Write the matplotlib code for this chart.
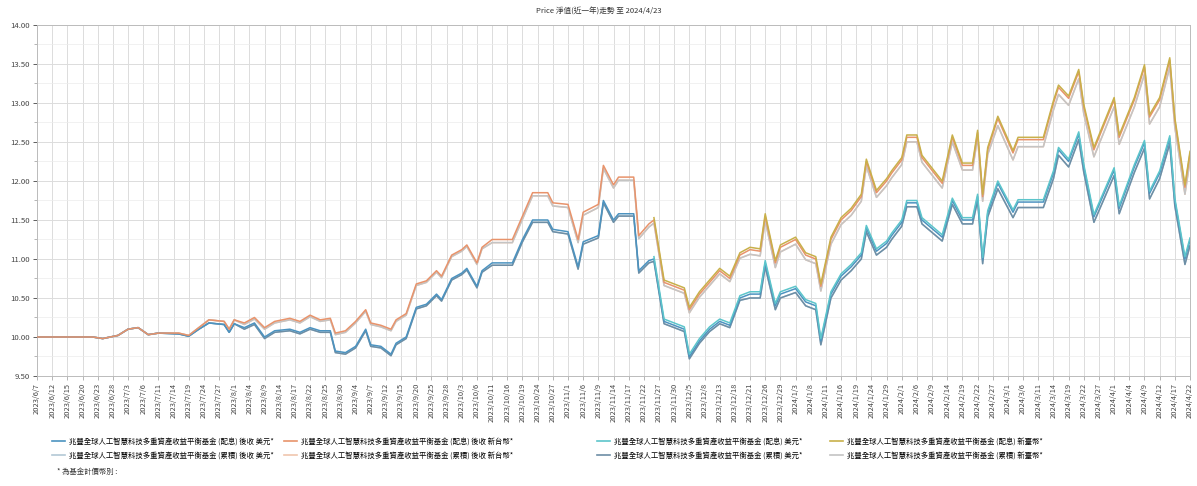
import matplotlib
matplotlib.use('Agg')
import matplotlib.pyplot as plt
import matplotlib.ticker as mticker
from matplotlib.lines import Line2D
import pandas as pd

plt.rcParams['font.family'] = ['Noto Sans CJK TC', 'DejaVu Sans']

# --- data (business-day index) ---
start_date = '2023-06-07'
n_days = 229

days = [0, 11, 13, 16, 18, 20, 22, 24, 28, 30,
        32, 34, 37, 38, 39, 41, 43, 45, 47, 50,
        52, 54, 56, 58, 59, 61, 63, 65, 66, 68,
        70, 71, 73, 75, 77, 79, 80, 82, 84, 85,
        87, 88, 90, 94, 96, 98, 101, 102, 105, 107,
        108, 111, 112, 114, 115, 118, 119, 121, 122, 124,
        126, 128, 129, 131, 133, 135, 137, 139, 141, 143,
        144, 146, 147, 150, 152, 154, 155, 157, 159, 161,
        163, 164, 166, 168, 169, 171, 172, 174, 175, 179,
        181, 183, 185, 186, 187, 188, 190, 193, 194, 199,
        201, 202, 204, 206, 207, 209, 213, 214, 217, 219,
        220, 222, 224, 225, 227, 228]
late_start = 58  # front-load classes are drawn from this point of `days`

twd_hi = [10.00, 10.00, 9.98, 10.02, 10.10, 10.12, 10.03, 10.05, 10.05, 10.02,
          10.12, 10.22, 10.20, 10.10, 10.22, 10.18, 10.25, 10.12, 10.20, 10.24,
          10.20, 10.28, 10.22, 10.24, 10.05, 10.08, 10.20, 10.35, 10.18, 10.15,
          10.10, 10.22, 10.30, 10.68, 10.72, 10.85, 10.78, 11.05, 11.12, 11.18,
          10.95, 11.15, 11.25, 11.25, 11.55, 11.85, 11.85, 11.72, 11.70, 11.25,
          11.60, 11.70, 12.20, 11.95, 12.05, 12.05, 11.30, 11.45, 11.50, 10.70,
          10.65, 10.60, 10.35, 10.55, 10.70, 10.85, 10.75, 11.05, 11.12, 11.10,
          11.55, 10.95, 11.15, 11.25, 11.05, 11.00, 10.65, 11.25, 11.50, 11.62,
          11.80, 12.25, 11.85, 12.00, 12.10, 12.27, 12.56, 12.56, 12.30, 11.97,
          12.56, 12.20, 12.20, 12.62, 11.80, 12.40, 12.80, 12.36, 12.53, 12.53,
          13.00, 13.20, 13.06, 13.40, 12.95, 12.40, 13.04, 12.56, 13.04, 13.46,
          12.82, 13.04, 13.55, 12.78, 11.92, 12.35]

twd_lo = [10.00, 10.00, 9.98, 10.02, 10.10, 10.12, 10.03, 10.05, 10.05, 10.02,
          10.12, 10.22, 10.20, 10.10, 10.22, 10.16, 10.23, 10.10, 10.18, 10.22,
          10.18, 10.26, 10.20, 10.22, 10.03, 10.06, 10.18, 10.33, 10.16, 10.13,
          10.08, 10.20, 10.28, 10.66, 10.70, 10.83, 10.76, 11.03, 11.10, 11.16,
          10.93, 11.13, 11.21, 11.21, 11.51, 11.81, 11.81, 11.68, 11.66, 11.21,
          11.56, 11.66, 12.16, 11.91, 12.01, 12.01, 11.26, 11.41, 11.46, 10.66,
          10.61, 10.56, 10.31, 10.51, 10.66, 10.81, 10.71, 11.01, 11.06, 11.04,
          11.49, 10.89, 11.09, 11.19, 10.99, 10.94, 10.59, 11.19, 11.44, 11.56,
          11.74, 12.19, 11.79, 11.94, 12.04, 12.21, 12.50, 12.50, 12.24, 11.91,
          12.50, 12.14, 12.14, 12.56, 11.74, 12.34, 12.71, 12.27, 12.44, 12.44,
          12.91, 13.11, 12.97, 13.31, 12.86, 12.31, 12.95, 12.47, 12.95, 13.37,
          12.73, 12.95, 13.46, 12.69, 11.83, 12.26]

twd_front = [11.53, 10.73,
             10.68, 10.63, 10.38, 10.58, 10.73, 10.88, 10.78, 11.08, 11.15, 11.13,
             11.58, 10.98, 11.18, 11.28, 11.08, 11.03, 10.68, 11.28, 11.53, 11.65,
             11.83, 12.28, 11.88, 12.03, 12.13, 12.30, 12.59, 12.59, 12.33, 12.00,
             12.59, 12.23, 12.23, 12.65, 11.83, 12.43, 12.83, 12.39, 12.56, 12.56,
             13.03, 13.23, 13.09, 13.43, 12.98, 12.43, 13.07, 12.59, 13.07, 13.49,
             12.85, 13.07, 13.58, 12.81, 11.95, 12.38]

usd_hi = [10.00, 10.00, 9.98, 10.02, 10.10, 10.12, 10.03, 10.05, 10.04, 10.01,
          10.10, 10.18, 10.16, 10.06, 10.17, 10.12, 10.18, 10.00, 10.08, 10.10,
          10.06, 10.12, 10.08, 10.08, 9.82, 9.80, 9.88, 10.10, 9.90, 9.88,
          9.78, 9.92, 10.00, 10.38, 10.42, 10.55, 10.48, 10.75, 10.82, 10.88,
          10.65, 10.85, 10.95, 10.95, 11.25, 11.50, 11.50, 11.38, 11.35, 10.90,
          11.22, 11.30, 11.75, 11.50, 11.58, 11.58, 10.85, 10.98, 11.00, 10.20,
          10.15, 10.10, 9.75, 9.95, 10.10, 10.20, 10.15, 10.50, 10.55, 10.55,
          10.95, 10.40, 10.55, 10.62, 10.45, 10.40, 9.95, 10.55, 10.78, 10.90,
          11.05, 11.40, 11.10, 11.20, 11.30, 11.47, 11.72, 11.72, 11.50, 11.28,
          11.75, 11.50, 11.50, 11.80, 10.99, 11.59, 11.97, 11.60, 11.73, 11.73,
          12.10, 12.40, 12.25, 12.60, 12.18, 11.54, 12.14, 11.65, 12.18, 12.49,
          11.84, 12.10, 12.55, 11.75, 11.00, 11.24]

usd_lo = [10.00, 10.00, 9.98, 10.02, 10.10, 10.12, 10.03, 10.05, 10.04, 10.01,
          10.10, 10.18, 10.16, 10.06, 10.17, 10.10, 10.16, 9.98, 10.06, 10.08,
          10.04, 10.10, 10.06, 10.06, 9.80, 9.78, 9.86, 10.08, 9.88, 9.86,
          9.76, 9.90, 9.98, 10.36, 10.40, 10.53, 10.46, 10.73, 10.80, 10.86,
          10.63, 10.83, 10.92, 10.92, 11.22, 11.47, 11.47, 11.35, 11.32, 10.87,
          11.19, 11.27, 11.72, 11.47, 11.55, 11.55, 10.82, 10.95, 10.97, 10.17,
          10.12, 10.07, 9.72, 9.92, 10.07, 10.17, 10.12, 10.47, 10.50, 10.50,
          10.90, 10.35, 10.50, 10.57, 10.40, 10.35, 9.90, 10.50, 10.73, 10.85,
          11.00, 11.35, 11.05, 11.15, 11.25, 11.42, 11.67, 11.67, 11.45, 11.23,
          11.70, 11.45, 11.45, 11.75, 10.94, 11.54, 11.90, 11.53, 11.66, 11.66,
          12.03, 12.33, 12.18, 12.53, 12.11, 11.47, 12.07, 11.58, 12.11, 12.42,
          11.77, 12.03, 12.48, 11.68, 10.93, 11.17]

usd_front = [11.03, 10.23,
             10.18, 10.13, 9.78, 9.98, 10.13, 10.23, 10.18, 10.53, 10.58, 10.58,
             10.98, 10.43, 10.58, 10.65, 10.48, 10.43, 9.98, 10.58, 10.81, 10.93,
             11.08, 11.43, 11.13, 11.23, 11.33, 11.50, 11.75, 11.75, 11.53, 11.31,
             11.78, 11.53, 11.53, 11.83, 11.02, 11.62, 12.00, 11.63, 11.76, 11.76,
             12.13, 12.43, 12.28, 12.63, 12.21, 11.57, 12.17, 11.68, 12.21, 12.52,
             11.87, 12.13, 12.58, 11.78, 11.03, 11.27]

fund = '兆豐全球人工智慧科技多重資產收益平衡基金'
labels = [
    f'{fund} (配息) 後收 美元*',
    f'{fund} (配息) 後收 新台幣*',
    f'{fund} (配息) 美元*',
    f'{fund} (配息) 新臺幣*',
    f'{fund} (累積) 後收 美元*',
    f'{fund} (累積) 後收 新台幣*',
    f'{fund} (累積) 美元*',
    f'{fund} (累積) 新臺幣*',
]
colors = ['#4c93c0', '#e8936b', '#5cc5cb', '#c8b04a',
          '#b3c8d6', '#f0c6ae', '#6d8ea5', '#c4c4c4']
late_days = days[late_start:]
series = [(days, usd_hi), (days, twd_hi), (late_days, usd_front), (late_days, twd_front),
          (days, usd_lo), (days, twd_lo), (days, usd_lo), (days, twd_lo)]
draw_order = [4, 6, 5, 7, 0, 1, 2, 3]

title = 'Price 淨值(近一年)走勢 至 2024/4/23'
note = '* 為基金計價幣別 :'

dates = pd.bdate_range(start_date, periods=n_days)
tick_idx = list(range(0, n_days, 3))
tick_lbl = [f'{d.year}/{d.month}/{d.day}' for d in dates[tick_idx]]

# --- plot ---
fig = plt.figure(figsize=(11.97, 4.86), dpi=100)
ax = fig.add_axes([37 / 1197, 1 - 376 / 486, (1190 - 37) / 1197, (376 - 25) / 486])

for z, k in enumerate(draw_order):
    xs, ys = series[k]
    ax.plot(xs, ys, color=colors[k], lw=1.1, zorder=3 + z * 0.1)

ax.set_xlim(0, n_days - 1)
ax.set_ylim(9.5, 14.0)
ax.yaxis.set_major_locator(mticker.MultipleLocator(0.5))
ax.yaxis.set_minor_locator(mticker.MultipleLocator(0.25))
ax.yaxis.set_major_formatter(mticker.FormatStrFormatter('%.2f'))
ax.set_xticks(tick_idx)
ax.set_xticklabels(tick_lbl, rotation=90, fontsize=5.4, color='#444444')
ax.tick_params(axis='y', labelsize=5.6, colors='#444444', length=3, width=0.6, pad=2)
ax.tick_params(axis='y', which='minor', length=2, width=0.5, colors='#999999')
ax.tick_params(axis='x', length=3, width=0.5, colors='#999999', labelcolor='#444444', pad=2)

ax.grid(True, which='major', color='#dcdcdc', lw=0.7)
ax.grid(True, which='minor', axis='y', color='#ececec', lw=0.5)
ax.set_axisbelow(True)
for s in ax.spines.values():
    s.set_color('#bbbbbb')
    s.set_linewidth(0.7)

fig.text(0.5, 1 - 12 / 486, title, ha='center', va='center', fontsize=5.5, color='#333333')

# legend: four columns placed individually
col_x = [55, 287, 600, 833]
for c in range(4):
    hs = [Line2D([], [], color=colors[c], lw=1.2), Line2D([], [], color=colors[c + 4], lw=1.2)]
    fig.legend(hs, [labels[c], labels[c + 4]], loc='upper left',
               bbox_to_anchor=(col_x[c] / 1197 - 0.004, 1 - 436 / 486),
               frameon=False, fontsize=5.3, handlelength=1.8, handletextpad=0.6,
               labelspacing=0.8, borderaxespad=0, borderpad=0.2)
fig.text(57 / 1197, 1 - 472 / 486, note, ha='left', va='center', fontsize=5.3, color='#333333')

fig.savefig('out.png', dpi=100)
